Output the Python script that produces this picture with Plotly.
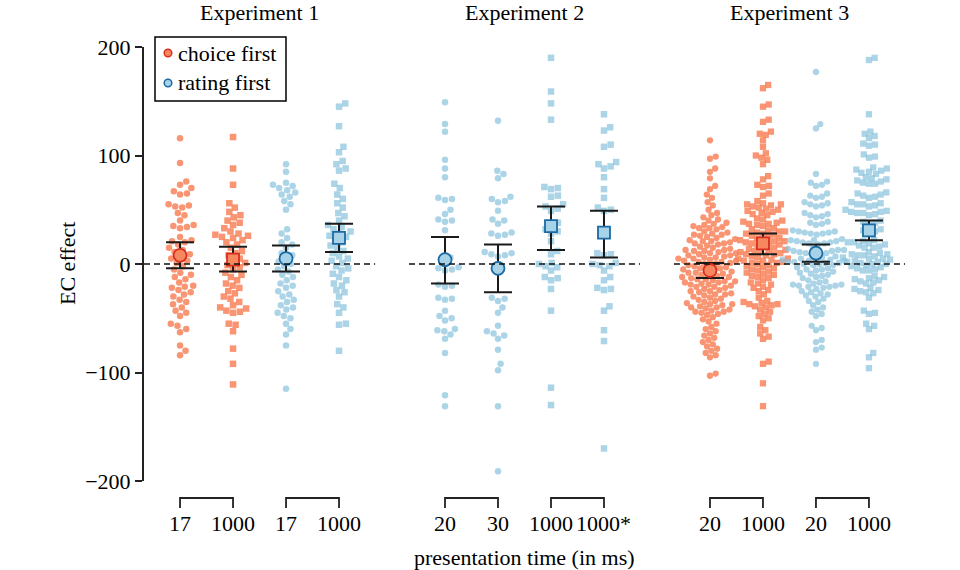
import numpy as np
import plotly.graph_objects as go

# ---------------- data (EC effect per participant) ----------------
exp1_choice_17 = [116, 93, 76, 73, 70, 67, 65, 64, 55, 54, 53, 52, 47, 45, 40, 36, 35, 34, 33, 25, 22, 21,
                  20, 18, 15, 13, 11, 9, 7, 5, 3, 1, -2, -5, -8, -10, -12, -14, -17, -20, -21, -22, -24,
                  -26, -28, -30, -33, -35, -37, -40, -43, -45, -48, -55, -57, -60, -63, -75, -80, -84]
exp1_choice_1000 = [117, 88, 73, 56, 52, 48, 45, 43, 40, 38, 36, 33, 30, 28, 27, 26, 25, 24, 22, 20, 18, 15,
                    12, 10, 8, 5, 3, 1, -1, -3, -5, -8, -10, -12, -15, -18, -20, -22, -25, -27, -30, -32,
                    -35, -38, -40, -41, -43, -44, -45, -55, -56, -62, -78, -92, -111]
exp1_rating_17 = [92, 85, 75, 73, 72, 70, 68, 66, 64, 62, 58, 55, 50, 32, 28, 24, 20, 18, 15, 10, 8, 5, 2, 0,
                  -2, -5, -7, -10, -12, -15, -18, -20, -22, -25, -28, -30, -33, -35, -38, -40, -42, -45,
                  -48, -50, -55, -60, -65, -75, -115]
exp1_rating_1000 = [148, 145, 127, 108, 103, 95, 92, 88, 86, 74, 70, 64, 60, 56, 52, 47, 44, 40, 36, 34, 32,
                    30, 28, 26, 25, 22, 20, 17, 15, 12, 10, 7, 5, 3, 1, -2, -4, -6, -9, -12, -15, -18, -20,
                    -24, -26, -30, -37, -40, -45, -55, -56, -80]
exp2_rating_20 = [149, 129, 122, 96, 88, 80, 61, 60, 59, 50, 46, 41, 40, 39, 31, 6, 2, -3, -4, -5, -6, -19,
                  -20, -21, -31, -32, -33, -43, -48, -50, -52, -60, -61, -62, -65, -69, -82, -121, -131]
exp2_rating_30 = [132, 86, 83, 79, 62, 60, 58, 57, 49, 41, 40, 37, 29, 28, 27, 26, 11, 10, 9, 8, 7, -31, -32,
                  -34, -40, -45, -57, -62, -64, -66, -69, -79, -92, -98, -131, -191]
exp2_rating_1000 = [190, 159, 148, 133, 71, 70, 69, 63, 62, 55, 53, 51, 49, 38, 35, 32, 30, 28, 21, 12, 9, 1,
                    0, -2, -3, -6, -12, -13, -15, -23, -43, -114, -130]
exp2_rating_1000s = [138, 126, 123, 110, 108, 94, 92, 90, 88, 80, 69, 61, 52, 50, 49, 10, 9, 8, 1, 0, -1, -2,
                     -6, -12, -15, -22, -23, -24, -39, -43, -61, -71, -170]
exp3_choice_20 = [114, 99, 97, 88, 85, 79, 72, 69, 64, 61, 57, 54, 50, 47, 45, 43, 41, 40,
                  38, 37, 36, 35, 34, 33, 33, 32, 30, 29, 28, 27, 27, 26, 25, 24, 23,
                  22, 21, 21, 20, 19, 19, 18, 17, 16, 15, 14, 13, 13, 12, 12, 11, 10, 10, 9, 8, 8, 7,
                  6, 6, 5, 5, 4, 3, 3, 2, 2, 1, 0, 0, -1, -2, -2, -3, -4, -4, -5, -6, -6, -7, -8, -8,
                  -9, -10, -10, -11, -12, -12, -13, -14, -14, -15, -16, -16, -17, -17,
                  -18, -19, -19, -20, -21, -21, -22, -23, -24, -25, -25, -26, -27, -28, -28, -29,
                  -30, -31, -32, -33, -34, -35, -36, -37, -37, -38, -39, -40, -40, -41, -42, -43, -44,
                  -44, -45, -46, -47, -49, -51, -53, -55, -58, -60, -62, -64, -66, -68, -70, -72, -74,
                  -76, -78, -80, -82, -84, -86, -101, -103]
exp3_choice_1000 = [165, 162, 147, 145, 133, 131, 122, 120, 119, 114, 108, 102, 100, 98, 96, 92, 81, 78, 73,
                    72, 71, 65, 63, 58, 56, 55, 55, 54, 53, 52, 51, 50, 49, 48, 47, 46, 45,
                    42, 41, 40, 39, 38, 37, 37, 36, 35, 33, 32, 31, 30, 30, 29, 28, 28, 27, 26, 25,
                    24, 23, 22, 22, 21, 21, 20, 19, 19, 18, 17, 16, 15, 14, 13, 13, 12, 11, 11, 10, 9, 9,
                    8, 7, 6, 5, 5, 4, 3, 3, 2, 1, 1, 0, -1, -2, -3, -4, -5, -6, -7, -8, -9, -10, -11,
                    -12, -13, -15, -17, -18, -19, -21, -22, -24, -25, -28, -31, -34, -35, -36, -37, -37,
                    -38, -39, -40, -42, -44, -46, -48, -50, -52, -58, -61, -64, -67, -69, -90, -92, -110,
                    -131]
exp3_rating_20 = [177, 129, 125, 83, 76, 75, 73, 72, 65, 63, 62, 61, 57, 56, 55, 54, 53, 47, 46, 45, 44, 43,
                  39, 38, 37, 36, 31, 30, 30, 29, 29, 28, 28, 27, 23, 22, 22, 21, 21, 20, 20, 19, 19, 18,
                  15, 14, 13, 13, 12, 12, 11, 11, 10, 10, 9, 7, 6, 5, 5, 4, 4, 3, 3, 2, 2, 1, 1, 0, 0,
                  -1, -1, -3, -4, -5, -5, -6, -7, -8, -9, -10, -11, -12, -13, -15, -16, -17, -18, -19,
                  -19, -20, -20, -21, -21, -22, -23, -25, -26, -27, -28, -29, -30, -32, -34, -35,
                  -38, -40, -42, -44, -46, -48, -57, -59, -61, -70, -72, -77, -79, -92]
exp3_rating_1000 = [190, 188, 138, 122, 120, 118, 116, 111, 110, 109, 101, 99, 98,
                    89, 88, 87, 86, 85, 84, 83, 80, 79, 78, 77, 76, 75, 74, 74,
                    66, 65, 64, 63, 62, 61, 57, 56, 55, 55, 54, 53,
                    50, 49, 48, 48, 47, 47, 46, 45, 40, 39, 38, 37, 32, 31, 30, 29,
                    22, 21, 20, 20, 19, 18, 17, 16, 15, 15,
                    11, 10, 9, 9, 8, 8, 7, 6, 5, 5, 4, 3, 2, 2,
                    1, 0, 0, -1, -2, -3, -4, -5, -6, -6,
                    -11, -12, -13, -14, -15, -16, -17, -18,
                    -22, -23, -24, -25, -26, -27, -31,
                    -43, -45, -46, -55, -57, -60, -82, -86, -96]

groups = [exp1_choice_17, exp1_choice_1000, exp1_rating_17, exp1_rating_1000,
          exp2_rating_20, exp2_rating_30, exp2_rating_1000, exp2_rating_1000s,
          exp3_choice_20, exp3_choice_1000, exp3_rating_20, exp3_rating_1000]
positions = [0, 1, 2, 3, 5, 6, 7, 8, 10, 11, 12, 13]
tick_labels = ["17", "1000", "17", "1000", "20", "30", "1000", "1000*", "20", "1000", "20", "1000"]
order_condition = ["choice", "choice", "rating", "rating", "rating", "rating", "rating", "rating",
                   "choice", "choice", "rating", "rating"]
marker_shape = ["circle", "square", "circle", "square", "circle", "circle", "square", "square",
                "circle", "square", "circle", "square"]
experiment_of_group = [1, 1, 1, 1, 2, 2, 2, 2, 3, 3, 3, 3]
means = [8, 4, 5, 24, 4, -4, 35, 29, -6, 19, 10, 31]
ci_upper = [20, 16, 17, 37, 25, 18, 53, 49, 1, 28, 18, 40]
ci_lower = [-4, -7, -7, 11, -18, -26, 13, 6, -13, 9, 2, 22]
experiments = ["Experiment 1", "Experiment 2", "Experiment 3"]
exp_centers = [1.5, 6.5, 11.5]
exp_spans = [(0, 3), (5, 8), (10, 13)]
bracket_pairs = [(0, 1), (2, 3), (5, 6), (7, 8), (10, 11), (12, 13)]
legend_labels = ["choice first", "rating first"]
legend_conditions = ["choice", "rating"]

# ---------------- layout geometry ----------------
W, H = 960, 570
ML, MR, MT, MB = 144, 55, 47, 89
XR = [-0.68, 13.68]
YR = [-200, 200]
plot_w = W - ML - MR
plot_h = H - MT - MB
XPX = plot_w / (XR[1] - XR[0])
YPX = plot_h / (YR[1] - YR[0])
FONT = "Liberation Serif"
FS = 22


def px_x(px):
    return (px - ML) / plot_w


def px_y(py):
    return (H - MB - py) / plot_h


def swarm_offsets(values, d_px):
    vals = np.asarray(values, float)
    order = np.argsort(vals, kind="stable")
    placed = []
    xs = np.zeros(len(vals))
    for i in order:
        y = vals[i] * YPX
        near = [(px, py) for px, py in placed if abs(py - y) < d_px]
        cands = [0.0]
        for px, py in near:
            dx = np.sqrt(d_px ** 2 - (py - y) ** 2)
            cands += [px + dx, px - dx]
        cands.sort(key=abs)
        for c in cands:
            if all((c - px) ** 2 + (y - py) ** 2 >= d_px ** 2 - 1e-6 for px, py in near):
                xs[i] = c
                break
        placed.append((xs[i], y))
    return xs / XPX


pt_col = {"choice": "rgba(248,130,90,0.85)", "rating": "rgba(140,196,222,0.72)"}
mean_fill = {"choice": "#f7875f", "rating": "#a6d3e8"}
mean_line = {"choice": "#d7301f", "rating": "#1c6aa3"}

fig = go.Figure()

for vals, pos, cond, shp, ex in zip(groups, positions, order_condition, marker_shape, experiment_of_group):
    dense = ex == 3
    offs = swarm_offsets(vals, 6.1 if dense else 7.0)
    fig.add_trace(go.Scatter(
        x=pos + offs, y=vals, mode="markers", showlegend=False, hoverinfo="y",
        marker=dict(symbol=shp, size=6.3 if dense else 6.5, color=pt_col[cond], line=dict(width=0))))

for pos, m, up, lo, cond, shp in zip(positions, means, ci_upper, ci_lower, order_condition, marker_shape):
    fig.add_trace(go.Scatter(
        x=[pos], y=[m], mode="markers", showlegend=False,
        error_y=dict(type="data", symmetric=False, array=[up - m], arrayminus=[m - lo],
                     color="#1a1a1a", thickness=2, width=14),
        marker=dict(symbol=shp, size=13 if shp == "circle" else 12, color=mean_fill[cond],
                    line=dict(color=mean_line[cond], width=1.8))))

shapes = []
for a, b in exp_spans:
    shapes.append(dict(type="line", xref="x", yref="y", x0=a - 0.68, x1=b + 0.68, y0=0, y1=0,
                       line=dict(color="#111", width=1.7, dash="6px,4px")))
yb0 = -17 / plot_h
yb1 = -27 / plot_h
for a, b in bracket_pairs:
    shapes.append(dict(type="path", xref="x", yref="paper",
                       path=f"M {a},{yb1} L {a},{yb0} L {b},{yb0} L {b},{yb1}",
                       line=dict(color="#222", width=1.8)))

# legend box (drawn by hand to match the original's compact key)
shapes.append(dict(type="rect", xref="paper", yref="paper", x0=px_x(155), x1=px_x(286),
                   y0=px_y(101), y1=px_y(37), line=dict(color="black", width=1.5),
                   fillcolor="white", layer="above"))
annotations = []
for k, (lab, cond) in enumerate(zip(legend_labels, legend_conditions)):
    yc = 53 + 30 * k
    shapes.append(dict(type="circle", xref="paper", yref="paper", xsizemode="pixel",
                       ysizemode="pixel", xanchor=px_x(168), yanchor=px_y(yc),
                       x0=-3.8, x1=3.8, y0=-3.8, y1=3.8, layer="above",
                       fillcolor=mean_fill[cond], line=dict(color=mean_line[cond], width=1.5)))
    annotations.append(dict(x=px_x(176), y=px_y(yc), xref="paper", yref="paper", text=lab,
                            showarrow=False, xanchor="left", yanchor="middle",
                            font=dict(size=FS, family=FONT, color="black")))

for pos, lab in zip(positions, tick_labels):
    annotations.append(dict(x=pos, y=-42 / plot_h, xref="x", yref="paper", text=lab, showarrow=False,
                            xanchor="center", yanchor="middle",
                            font=dict(size=FS, family=FONT, color="black")))
for c, t in zip(exp_centers, experiments):
    annotations.append(dict(x=c, y=1 + 35 / plot_h, xref="x", yref="paper", text=t, showarrow=False,
                            xanchor="center", yanchor="middle",
                            font=dict(size=FS, family=FONT, color="black")))
annotations.append(dict(x=0.5, y=-76 / plot_h, xref="paper", yref="paper",
                        text="presentation time (in ms)", showarrow=False,
                        xanchor="center", yanchor="middle",
                        font=dict(size=FS, family=FONT, color="black")))
annotations.append(dict(x=-77 / plot_w, y=0.5, xref="paper", yref="paper", text="EC effect",
                        textangle=-90, showarrow=False, xanchor="center", yanchor="middle",
                        font=dict(size=FS, family=FONT, color="black")))

fig.update_layout(
    width=W, height=H, margin=dict(l=ML, r=MR, t=MT, b=MB),
    paper_bgcolor="white", plot_bgcolor="white", showlegend=False,
    font=dict(family=FONT, size=FS, color="black"),
    xaxis=dict(range=XR, showgrid=False, zeroline=False, showline=False, showticklabels=False,
               ticks=""),
    yaxis=dict(range=YR, tickvals=[-200, -100, 0, 100, 200], showgrid=False, zeroline=False,
               showline=True, linecolor="#222", linewidth=2, ticks="outside", ticklen=7,
               tickwidth=2, tickcolor="#222", tickfont=dict(size=FS, family=FONT)),
    shapes=shapes, annotations=annotations,
)

fig.write_html("out.html")
